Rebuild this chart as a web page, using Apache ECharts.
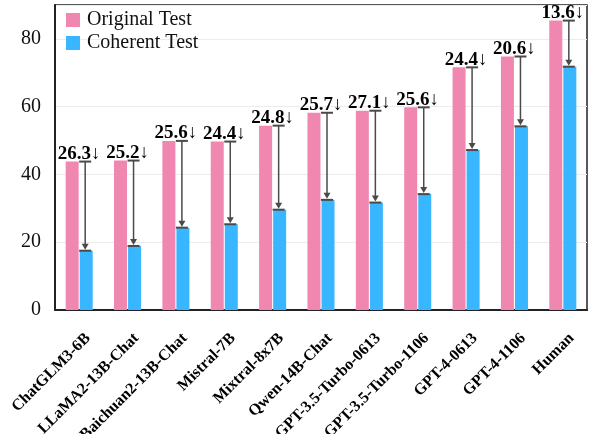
<!DOCTYPE html>
<html>
<head>
<meta charset="utf-8">
<script src="https://cdn.jsdelivr.net/npm/echarts@6/dist/echarts.min.js"></script>
<style>html,body{margin:0;padding:0;background:#fff}#c{width:591px;height:434px}</style>
</head>
<body>
<div id="c"></div>
<script>
const categories = ['ChatGLM3-6B','LLaMA2-13B-Chat','Baichuan2-13B-Chat','Mistral-7B','Mixtral-8x7B','Qwen-14B-Chat','GPT-3.5-Turbo-0613','GPT-3.5-Turbo-1106','GPT-4-0613','GPT-4-1106','Human'];
const originalTest = [43.8, 44.1, 49.9, 49.7, 54.4, 58.2, 58.8, 59.8, 71.6, 74.8, 85.4];
const coherentTest = [17.5, 18.9, 24.3, 25.3, 29.6, 32.5, 31.7, 34.2, 47.2, 54.2, 71.8];
const dropLabels = ['26.3','25.2','25.6','24.4','24.8','25.7','27.1','25.6','24.4','20.6','13.6'];

const FONT = "'Liberation Serif', 'Times New Roman', serif";
const annData = categories.map((c, i) => [i, originalTest[i], coherentTest[i], dropLabels[i]]);

const chart = echarts.init(document.getElementById('c'), null, {renderer: 'canvas'});
chart.setOption({
  animation: false,
  backgroundColor: '#fff',
  grid: {left: 55, right: 4, top: 5, bottom: 124, containLabel: false, outerBoundsMode: 'none', show: true, borderColor: '#222', borderWidth: 1.5},
  legend: {
    orient: 'vertical', left: 61, top: 5, itemWidth: 14, itemHeight: 14, itemGap: 3,
    icon: 'rect',
    textStyle: {fontFamily: FONT, fontSize: 20, color: '#111', lineHeight: 20, padding: [0,0,0,2]},
    data: ['Original Test', 'Coherent Test']
  },
  xAxis: {
    type: 'category', data: categories,
    axisLine: {lineStyle: {color: '#222', width: 2}},
    axisTick: {show: false},
    axisLabel: {interval: 0, rotate: 45, margin: 17, verticalAlign: 'top', lineHeight: 25, fontFamily: FONT, fontWeight: 'bold', fontSize: 16, color: '#000'}
  },
  yAxis: {
    type: 'value', min: 0, max: 90, interval: 20,
    axisLine: {show: true, lineStyle: {color: '#222', width: 2}},
    axisTick: {show: false},
    axisLabel: {showMaxLabel: false, margin: 14, fontFamily: FONT, fontSize: 20, color: '#111'},
    splitLine: {lineStyle: {color: '#ececec', width: 1}}
  },
  series: [
    {name: 'Original Test', type: 'bar', data: originalTest, barWidth: 13, barGap: '8%', itemStyle: {color: '#F087B0'}},
    {name: 'Coherent Test', type: 'bar', data: coherentTest, barWidth: 13, itemStyle: {color: '#38B6FF'}},
    {
      type: 'custom', data: annData, z: 10,
      encode: {x: 0, y: [1, 2]},
      renderItem: function (params, api) {
        const i = api.value(0);
        const top = api.coord([i, api.value(1)]);
        const bot = api.coord([i, api.value(2)]);
        const cx = top[0];
        const lx = cx + 6;
        const ty = top[1], by = bot[1];
        const col = '#4a4a4a';
        return {
          type: 'group',
          children: [
            {type: 'line', shape: {x1: lx - 6, y1: ty, x2: lx + 6, y2: ty}, style: {stroke: col, lineWidth: 2}},
            {type: 'line', shape: {x1: lx, y1: ty, x2: lx, y2: by - 4}, style: {stroke: col, lineWidth: 1.5}},
            {type: 'polygon', shape: {points: [[lx - 3.5, by - 7], [lx + 3.5, by - 7], [lx, by - 1]]}, style: {fill: col}},
            {type: 'line', shape: {x1: lx - 6, y1: by, x2: lx + 6, y2: by}, style: {stroke: col, lineWidth: 2}},
            {type: 'text', x: cx, y: ty + 2, style: {text: api.value(3) + '↓', fontFamily: FONT, fontWeight: 'bold', fontSize: 19, fill: '#000', align: 'center', verticalAlign: 'bottom'}}
          ]
        };
      }
    }
  ]
});
</script>
</body>
</html>
